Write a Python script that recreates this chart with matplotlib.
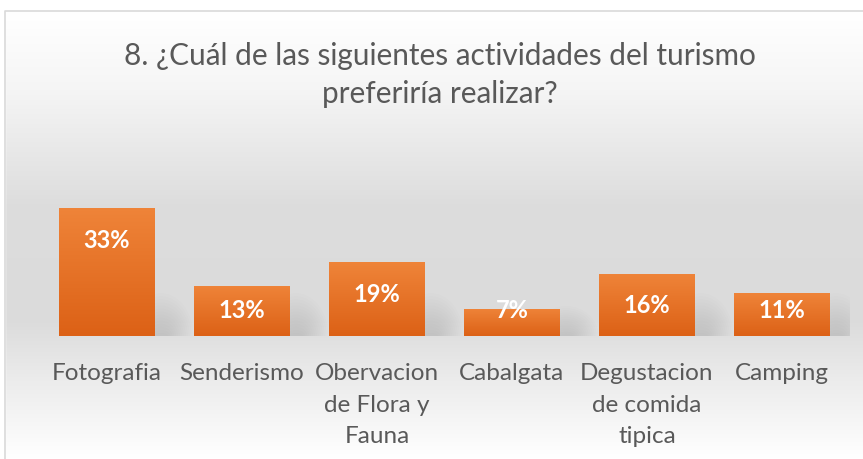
import numpy as np
import matplotlib
matplotlib.use("Agg")
import matplotlib.pyplot as plt
from matplotlib.colors import LinearSegmentedColormap
from matplotlib.patches import Rectangle, Ellipse

categories = ["Fotografia", "Senderismo", "Obervacion\nde Flora y\nFauna", "Cabalgata",
              "Degustacion\nde comida\ntipica", "Camping"]
values = [33, 13, 19, 7, 16, 11]
labels = ["33%", "13%", "19%", "7%", "16%", "11%"]
title = "8. ¿Cuál de las siguientes actividades del turismo\npreferiría realizar?"

plt.rcParams['font.family'] = ['Lato', 'DejaVu Sans']

W, H = 863, 460
fig = plt.figure(figsize=(W / 100, H / 100), dpi=100)

# background gradient (figure-wide)
bg = fig.add_axes([0, 0, 1, 1], zorder=-10)
bg.set_axis_off()
ys = np.linspace(0, 1, 400)  # 0 top -> 1 bottom
stops_y = [0.0, 0.03, 0.2, 0.45, 0.7, 0.82, 1.0]
stops_c = [1.0, 1.0, 0.96, 0.865, 0.86, 0.92, 1.0]
g = np.interp(ys, stops_y, stops_c)
bg.imshow(np.stack([g, g, g], axis=-1)[:, None, :].repeat(2, axis=1),
          aspect='auto', extent=[0, 1, 0, 1], interpolation='bilinear')
bg.set_xlim(0, 1)
bg.set_ylim(0, 1)
# top white band and border
bg.add_patch(Rectangle((0, 1 - 12 / H), 1, 12 / H, color='white', zorder=2))
bg.add_patch(Rectangle((0, 0), 5 / W, 1, color='white', zorder=2))
bg.plot([5 / W, 5 / W, 1], [0, 1 - 12 / H, 1 - 12 / H], color='#d9d9d9', lw=1.2, zorder=3)

# main axes
left = 39.5 / W
width = 810 / W
bottom = (H - 337) / H
height = 35 * 3.88 / H
ax = fig.add_axes([left, bottom, width, height])
ax.set_facecolor('none')
ax.set_xlim(-0.5, len(values) - 0.5)
ax.set_ylim(0, 35)
for s in ax.spines.values():
    s.set_visible(False)
ax.set_yticks([])

x = np.arange(len(values))
bars = ax.bar(x, values, width=0.71, color='#e46c22', zorder=3)

# soft shadows at the bottom right of the bars
for xi, v in zip(x, values):
    hmax = min(v, 10) * 1.1
    n = 14
    for k in range(n):
        f = 1 - k / n
        e = Ellipse((xi + 0.40, 0.0), width=0.40 * f + 0.08, height=2 * hmax * f,
                    color='#808080', alpha=0.02, lw=0, zorder=1)
        ax.add_patch(e)

# gradient fill on bars
cmap = LinearSegmentedColormap.from_list('bar', ['#dc6116', '#ef8439'])
grad = np.linspace(0, 1, 256)[:, None]
for b in bars:
    x0, w, h = b.get_x(), b.get_width(), b.get_height()
    im = ax.imshow(grad, cmap=cmap, aspect='auto', origin='lower',
                   extent=[x0, x0 + w, 0, h], zorder=4, interpolation='bilinear')
    im.set_clip_path(b)
ax.set_xlim(-0.5, len(values) - 0.5)
ax.set_ylim(0, 35)

for xi, v, lab in zip(x, values, labels):
    ax.text(xi, max(v - 8, 6.8), lab, ha='center', va='center', color='white',
            fontsize=17, fontweight='bold', zorder=6)

ax.set_xticks(x)
ax.set_xticklabels(categories, fontsize=17.5, color='#595959', linespacing=1.62)
ax.tick_params(axis='x', length=0, pad=19)

fig.text(440 / W, 1 - 75 / H, title, ha='center', va='center', fontsize=21.4,
         color='#595959', linespacing=1.4)

fig.savefig('out.png', dpi=100)
